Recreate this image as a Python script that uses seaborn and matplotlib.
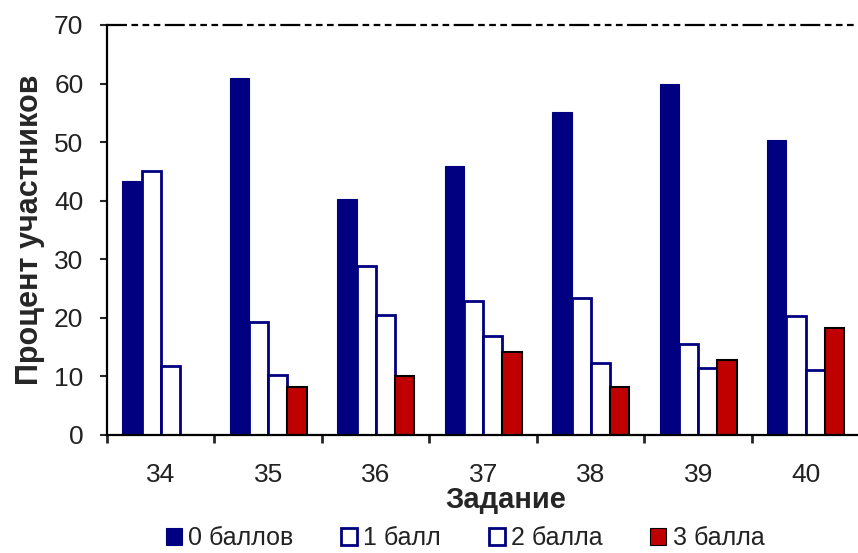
import pandas as pd
import matplotlib.pyplot as plt
import seaborn as sns
from matplotlib.ticker import FixedLocator

# Data
tasks = ['34', '35', '36', '37', '38', '39', '40']
scores = ['0 баллов', '1 балл', '2 балла', '3 балла']
pct_0 = [43.4, 61.0, 40.3, 46.0, 55.2, 60.0, 50.4]
pct_1 = [45.0, 19.3, 28.9, 22.9, 23.4, 15.5, 20.3]
pct_2 = [11.7, 10.2, 20.5, 16.9, 12.3, 11.4, 11.1]
pct_3 = [0.0, 8.2, 10.0, 14.1, 8.2, 12.8, 18.2]

rows = []
for name, vals in zip(scores, [pct_0, pct_1, pct_2, pct_3]):
    for t, v in zip(tasks, vals):
        rows.append({'Задание': t, 'Процент': v, 'Оценка': name})
df = pd.DataFrame(rows)

sns.set_style('white')
plt.rcParams['font.family'] = ['Liberation Sans', 'DejaVu Sans']

face = ['#000080', 'white', 'white', '#C00000']
edge = ['#000080', '#000080', '#000080', 'black']
lw = [0.8, 2.0, 2.0, 1.5]

fig = plt.figure(figsize=(8.58, 5.53), dpi=100)
ax = fig.add_axes([0.1247, 0.2134, 0.877, 0.7414])

sns.barplot(data=df, x='Задание', y='Процент', hue='Оценка', hue_order=scores,
            order=tasks, palette=face, width=0.715, gap=0, saturation=1,
            legend=False, ax=ax)

for i, cont in enumerate(ax.containers):
    for bar in cont:
        bar.set_facecolor(face[i])
        bar.set_edgecolor(edge[i])
        bar.set_linewidth(lw[i])

ax.set_xlim(-0.5, 6.5)
ax.set_ylim(0, 70)
ax.set_yticks(range(0, 71, 10))
ax.axhline(70, color='black', lw=1.6, dashes=(9, 2, 3, 2, 3, 2, 3, 2),
           zorder=0, clip_on=False)

for s in ['top', 'right']:
    ax.spines[s].set_visible(False)
for s in ['left', 'bottom']:
    ax.spines[s].set_linewidth(1.6)
    ax.spines[s].set_color('black')

ax.tick_params(axis='y', direction='out', length=5, width=1.5, pad=12,
               labelsize=19, labelcolor='#222222', left=True)
ax.tick_params(axis='x', which='major', length=0, pad=20,
               labelsize=19, labelcolor='#222222')
ax.xaxis.set_minor_locator(FixedLocator([k - 0.5 for k in range(8)]))
ax.tick_params(axis='x', which='minor', direction='out', length=6, width=2,
               bottom=True)

ax.set_xlabel('Задание', fontsize=21, fontweight='bold')
ax.xaxis.set_label_coords(0.53, -0.125)
ax.set_ylabel('Процент участников', fontsize=22, fontweight='bold')
ax.yaxis.set_label_coords(-0.082, 0.5)

handles = [plt.Rectangle((0, 0), 1, 1, facecolor=face[i], edgecolor=edge[i],
                         linewidth=2 if i in (1, 2) else 0.8)
           for i in range(4)]
fig.legend(handles, scores, loc='center', bbox_to_anchor=(0.542, 0.027),
           ncol=4, frameon=False, fontsize=18, handlelength=0.65,
           handleheight=0.65, handletextpad=0.25, columnspacing=1.9,
           borderaxespad=0, borderpad=0, labelcolor='#222222')

fig.savefig('out.png', dpi=100)
